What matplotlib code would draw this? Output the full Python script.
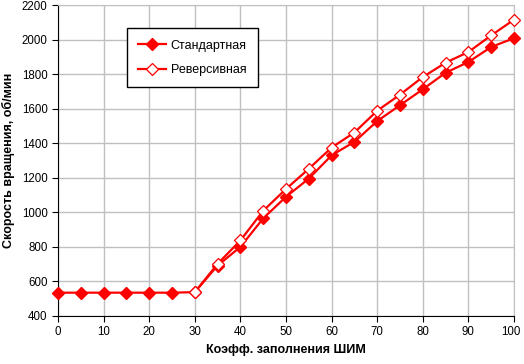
import matplotlib
matplotlib.use('Agg')
from matplotlib import pyplot as plt
from matplotlib import transforms

plt.rcParams['font.family'] = ['Liberation Sans', 'DejaVu Sans']

x_std = list(range(0, 101, 5))
standard = [535, 535, 535, 535, 535, 535, 538, 692, 800, 965, 1090, 1195, 1330,
            1408, 1528, 1620, 1712, 1808, 1870, 1957, 2008]
x_rev = list(range(30, 101, 5))
reverse = [538, 702, 837, 1009, 1135, 1252, 1375,
           1462, 1588, 1681, 1783, 1866, 1928, 2024, 2115]

fig = plt.figure(figsize=(5.24, 3.64), dpi=100)
ax = fig.add_axes([58/524, 1 - 316/364, 456/524, 311/364])

red = '#ff0000'
ax.plot(x_std, standard, color=red, lw=1.6, marker='D', ms=6.5, mfc=red, mec=red,
        label='Стандартная', clip_on=False, zorder=3)
ax.plot(x_rev, reverse, color=red, lw=1.6, marker='D', ms=6.5, mfc='white', mec=red,
        mew=0.9, label='Реверсивная', clip_on=False, zorder=4)

ax.set_xlim(0, 100)
ax.set_ylim(400, 2200)
ax.set_xticks(range(0, 101, 10))
ax.set_yticks(range(400, 2201, 200))
ax.grid(True, color='#c0c0c0', lw=1)
ax.set_axisbelow(True)
for s in ['top', 'right']:
    ax.spines[s].set_color('#c0c0c0')
for s in ['left', 'bottom']:
    ax.spines[s].set_color('black')
ax.tick_params(labelsize=8.3, length=4, direction='out', color='black')

# keep the last x label inside the image
lbl = ax.get_xticklabels()[-1]
lbl.set_transform(lbl.get_transform() + transforms.ScaledTranslation(-3/100, 0, fig.dpi_scale_trans))

ax.set_xlabel('Коэфф. заполнения ШИМ', fontsize=9, fontweight='bold', labelpad=4)
ax.set_ylabel('Скорость вращения, об/мин', fontsize=9, fontweight='bold', labelpad=5)

leg = ax.legend(loc='upper left', bbox_to_anchor=(0.151, 0.925), fontsize=9,
                fancybox=False, framealpha=1, edgecolor='black',
                handlelength=2.2, handletextpad=0.4, borderpad=0.9,
                labelspacing=1.0, borderaxespad=0)
leg.get_frame().set_linewidth(1)

fig.savefig('out.png', dpi=100)
